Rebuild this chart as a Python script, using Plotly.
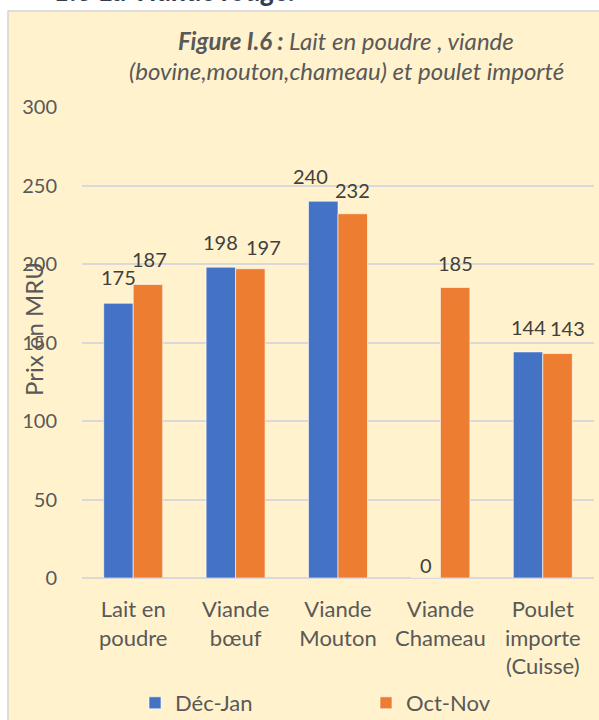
import plotly.graph_objects as go

categories = ["Lait en<br>poudre", "Viande<br>bœuf", "Viande<br>Mouton", "Viande<br>Chameau", "Poulet<br>importe<br>(Cuisse)"]
dec_jan = [175, 198, 240, 0, 144]
oct_nov = [187, 197, 232, 185, 143]
y_ticks = [0, 50, 100, 150, 200, 250, 300]

# label nudges (pixels) - styling only
dec_dx = [0, 0, -12.5, 0, 0]
oct_dx = [2, 13, 0, 0, 9.5]
dec_dy = [26, 25, 25, 13, 25]
oct_dy = [25, 22, 24, 25, 25]

W, H = 599, 720
L, R, T, B = 82, 5, 107, 142
PW, PH = W - L - R, H - T - B

def px(x):
    return (x - L) / PW

def py(y):
    return (H - B - y) / PH

FONT = "Lato"
GREY = "#595959"
HALF = 14.75

fig = go.Figure()
fig.add_trace(go.Bar(
    name="Déc-Jan", x=categories, y=dec_jan,
    marker=dict(color="#4472C4", line=dict(color="rgba(255,255,255,0.6)", width=1)),
))
fig.add_trace(go.Bar(
    name="Oct-Nov", x=categories, y=oct_nov,
    marker=dict(color="#ED7D31", line=dict(color="rgba(255,255,255,0.6)", width=1)),
))

annotations = []
for series, sign, dxs, dys in ((dec_jan, -1, dec_dx, dec_dy), (oct_nov, 1, oct_dx, oct_dy)):
    for cat, v, dx, dy in zip(categories, series, dxs, dys):
        annotations.append(dict(
            x=cat, y=v, xref="x", yref="y", text=str(v), showarrow=False,
            xanchor="center", yanchor="middle", xshift=sign * HALF + dx, yshift=dy,
            font=dict(size=20, color="#404040", family=FONT)))

annotations += [
    dict(text="<b><i>1.3 La Viande rouge.</i></b>", xref="paper", yref="paper",
         x=px(52), y=py(9), xanchor="left", yanchor="bottom", showarrow=False,
         font=dict(size=28, color="#323E4F", family=FONT)),
    dict(text="<b><i>Figure I.6 :</i></b><i> Lait en poudre , viande</i>", xref="paper", yref="paper",
         x=px(346), y=py(40), xanchor="center", yanchor="middle", showarrow=False,
         font=dict(size=24, color=GREY, family=FONT)),
    dict(text="<i>(bovine,mouton,chameau) et poulet importé</i>", xref="paper", yref="paper",
         x=px(346), y=py(70), xanchor="center", yanchor="middle", showarrow=False,
         font=dict(size=24, color=GREY, family=FONT)),
    dict(text="Prix en MRU", xref="paper", yref="paper", textangle=-90,
         x=px(33), y=py(329), xanchor="center", yanchor="middle", showarrow=False,
         font=dict(size=24, color=GREY, family=FONT)),
]

fig.update_layout(
    width=W, height=H,
    margin=dict(l=L, r=R, t=T, b=B, pad=0),
    paper_bgcolor="white",
    plot_bgcolor="rgba(0,0,0,0)",
    barmode="group", bargap=0.424, bargroupgap=0,
    font=dict(family=FONT, color=GREY, size=20),
    showlegend=True,
    legend=dict(orientation="h", xref="container", yref="container",
                x=135 / W, xanchor="left", y=(H - 703) / H, yanchor="middle",
                font=dict(size=22, color=GREY, family=FONT), entrywidth=186,
                bgcolor="rgba(0,0,0,0)", itemwidth=30),
    xaxis=dict(showline=False, showgrid=False, ticks="", tickfont=dict(size=22, color=GREY),
               automargin=False, ticklabelstandoff=16),
    yaxis=dict(range=[0, 300], tickvals=y_ticks, showgrid=True, gridcolor="#D9D9D9",
               gridwidth=1.5, zeroline=True, zerolinecolor="#D9D9D9", zerolinewidth=1.5,
               tickfont=dict(size=20, color=GREY), ticks="", automargin=False, ticklabelstandoff=24),
    shapes=[dict(type="rect", xref="paper", yref="paper", layer="below",
                 x0=px(8), x1=px(603), y0=py(724), y1=py(11),
                 fillcolor="#FFF2CC", line=dict(color="#D4D4D4", width=1.5))],
    annotations=annotations,
)

fig.write_html("out.html", config={"displayModeBar": False},
               post_script="document.body.style.margin='0';document.body.style.overflow='hidden';")
